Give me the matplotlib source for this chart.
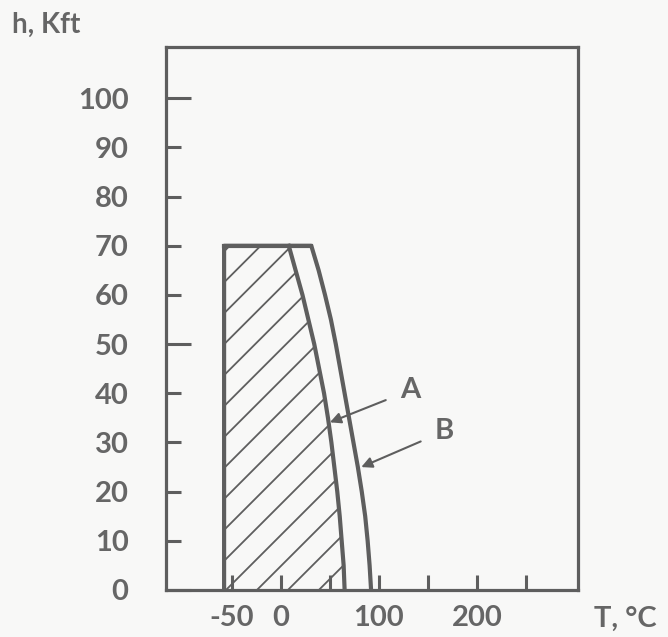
import numpy as np
import matplotlib
matplotlib.use("Agg")
import matplotlib.pyplot as plt
from matplotlib.patches import Polygon

# data
h_levels = [70, 65, 60, 55, 50, 45, 40, 35, 30, 25, 20, 15, 10, 5, 0]
curve_a_T = [8, 15, 22, 28, 34, 39, 44, 48, 51.5, 54.5, 57.5, 60, 62, 64, 65]
curve_b_T = [31, 38.5, 45, 51, 56, 60.5, 65, 69.5, 74, 78.5, 82.5, 86, 88.5, 90.5, 92]
left_T = -58
top_h = 70

y_major = [0, 50, 100]
y_minor = [10, 20, 30, 40, 60, 70, 80, 90]
x_ticks = [-50, 0, 50, 100, 150, 200, 250]
x_ticklabels = ["-50", "0", "", "100", "", "200", ""]

ink = "#5e5e5e"
txt = "#666666"
plt.rcParams['font.family'] = ['Lato', 'DejaVu Sans']

fig = plt.figure(figsize=(6.68, 6.37), dpi=100, facecolor="#f8f8f7")
ax = fig.add_axes([0.2485, 0.0738, 0.865 - 0.2485, 0.926 - 0.0738])
ax.set_facecolor("#f8f8f7")
ax.set_xlim(-117.3, 303)
ax.set_ylim(0, 110.4)

for s in ax.spines.values():
    s.set_color(ink)
    s.set_linewidth(2.3)

# hatched zone left of curve A
poly = Polygon([(left_T, 0), (left_T, top_h)] + list(zip(curve_a_T, h_levels)),
               closed=True, facecolor="none", edgecolor="none")
ax.add_patch(poly)
slope = 0.98 / 4.92
for c in np.arange(-24.5 - 31.6 * 12, 80, 31.6):
    tt = np.array([-120, 120])
    ln, = ax.plot(tt, slope * (tt - c), color=ink, lw=1.3)
    ln.set_clip_path(poly)

# outline: left side, top, curve B
ax.plot([left_T, left_T] + curve_b_T, [0, top_h] + h_levels, color=ink, lw=3,
        solid_joinstyle="round")
ax.plot([left_T, curve_b_T[0]], [top_h, top_h], color=ink, lw=3)
ax.plot(curve_a_T, h_levels, color=ink, lw=3)

# ticks
ax.set_yticks(y_major)
ax.set_yticks(y_minor, minor=True)
ax.set_yticklabels([str(v) for v in y_minor], minor=True)
ax.tick_params(axis="y", which="both", direction="in", width=2.2, color=ink,
               pad=27, labelsize=21, labelcolor=txt)
ax.tick_params(axis="y", which="major", length=18)
ax.tick_params(axis="y", which="minor", length=11)
ax.set_xticks(x_ticks)
ax.set_xticklabels(x_ticklabels)
ax.tick_params(axis="x", direction="in", length=11, width=2.2, color=ink,
               pad=11, labelsize=21, labelcolor=txt)
for lab in (ax.get_xticklabels() + ax.get_yticklabels()
            + ax.get_yticklabels(minor=True)):
    lab.set_fontweight("bold")

# curve labels
arrow = dict(arrowstyle="-|>", color=ink, lw=1.5, mutation_scale=16,
             shrinkA=9, shrinkB=0)
ax.annotate("A", xy=(50, 34.1), xytext=(132, 40.6), ha="center", va="center",
            fontsize=21, color=txt, fontweight="bold", arrowprops=arrow)
ax.annotate("B", xy=(82, 25), xytext=(167, 32.3), ha="center", va="center",
            fontsize=21, color=txt, fontweight="bold", arrowprops=arrow)

fig.text(12 / 668, 1 - 25 / 637, "h, Kft", ha="left", va="center",
         fontsize=20, color=txt, fontweight="bold")
fig.text(625 / 668, 1 - 619 / 637, "T, °C", ha="center", va="center",
         fontsize=21, color=txt, fontweight="bold")

fig.savefig("out.png", dpi=100, facecolor=fig.get_facecolor())
